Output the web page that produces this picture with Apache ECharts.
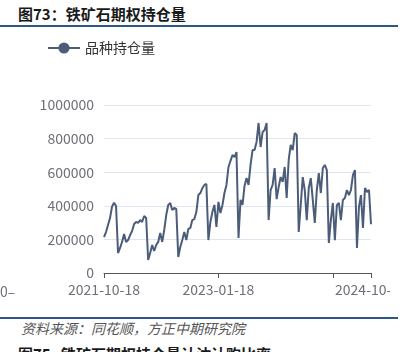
<!DOCTYPE html>
<html>
<head>
<meta charset="utf-8">
<script src="https://cdn.jsdelivr.net/npm/echarts@6/dist/echarts.min.js"></script>
<style>
  body { margin: 0; background: #fff; font-family: "Noto Sans CJK SC", sans-serif; }
  #wrap { position: relative; width: 406px; height: 352px; overflow: hidden; }
  #chart { position: absolute; left: 0; top: 0; width: 390px; height: 300px; }
  .title { position: absolute; left: 18px; font-size: 15px; font-weight: bold; color: #1a1a1a; white-space: nowrap; }
  .rule { position: absolute; left: 0; width: 398px; height: 1.5px; background: #2c5a86; }
  .source { position: absolute; left: 21px; top: 318px; font-size: 14px; font-style: italic; color: #555; white-space: nowrap; }
  .stub { position: absolute; left: 0; top: 281px; font-size: 14px; color: #6e7079; }
</style>
</head>
<body>
<div id="wrap">
  <div class="title" style="top:3px">图73：铁矿石期权持仓量</div>
  <div class="rule" style="top:25px"></div>
  <div id="chart"></div>
  <div class="stub">0–</div>
  <div class="rule" style="top:317px"></div>
  <div class="source">资料来源：同花顺，方正中期研究院</div>
  <div class="title" style="top:343px">图75&nbsp;&nbsp;&nbsp;铁矿石期权持仓量认沽认购比率</div>
</div>
<script>
const seriesName = "品种持仓量";
const yTicks = [0, 200000, 400000, 600000, 800000, 1000000];
const shownDates = ["2021-10-18", "2023-01-18", "2024-10-18"];
// positions (index) of the shown dates in the category list
const dateKnots = [0, 57, 133];

const holdings = [
  214000, 244000, 286000, 327000, 395000, 418000, 399000, 119000, 149000, 185000,
  232000, 185000, 196000, 226000, 250000, 292000, 304000, 298000, 315000, 304000,
  339000, 327000, 77000, 119000, 167000, 131000, 167000, 185000, 238000, 185000,
  256000, 345000, 405000, 417000, 375000, 387000, 381000, 95000, 155000, 196000,
  244000, 196000, 262000, 268000, 315000, 321000, 363000, 464000, 476000, 505000,
  524000, 530000, 196000, 304000, 363000, 405000, 274000, 423000, 357000, 405000,
  476000, 524000, 631000, 667000, 702000, 690000, 720000, 208000, 435000, 405000,
  518000, 565000, 524000, 643000, 732000, 732000, 780000, 893000, 750000, 839000,
  851000, 893000, 315000, 494000, 524000, 625000, 440000, 512000, 571000, 542000,
  631000, 446000, 673000, 762000, 732000, 833000, 821000, 244000, 405000, 571000,
  494000, 315000, 506000, 565000, 435000, 298000, 494000, 595000, 476000, 625000,
  643000, 613000, 179000, 315000, 417000, 196000, 405000, 417000, 315000, 435000,
  446000, 494000, 464000, 494000, 583000, 613000, 149000, 393000, 464000, 268000,
  506000, 482000, 494000, 290000
];

// category dates between the known label dates
function buildDates() {
  const out = [];
  for (let k = 0; k < dateKnots.length - 1; k++) {
    const a = new Date(shownDates[k] + "T00:00:00Z").getTime();
    const b = new Date(shownDates[k + 1] + "T00:00:00Z").getTime();
    const n = dateKnots[k + 1] - dateKnots[k];
    for (let i = 0; i < n; i++) {
      const d = new Date(a + Math.round(((b - a) / 86400000) * i / n) * 86400000);
      out.push(d.toISOString().slice(0, 10));
    }
  }
  out.push(shownDates[shownDates.length - 1]);
  return out;
}
const dates = buildDates();
const last = dates.length - 1;

const chart = echarts.init(document.getElementById("chart"));
chart.setOption({
  animation: false,
  textStyle: { fontFamily: "Noto Sans CJK SC" },
  legend: {
    left: 42,
    top: 36,
    itemWidth: 32,
    itemHeight: 14,
    textStyle: { fontSize: 14, color: "#333" },
    data: [seriesName],
  },
  grid: {
    left: 104, right: 19, top: 105, bottom: 27,
    containLabel: false, outerBoundsMode: "none",
  },
  xAxis: {
    type: "category",
    data: dates,
    boundaryGap: false,
    axisLine: { lineStyle: { color: "#555", width: 1 } },
    axisTick: { length: 5, interval: (i) => i % 57 === 0 || i === last },
    axisLabel: {
      interval: (i) => i === 0 || i === 57 || i === last,
      fontSize: 14,
      color: "#6e7079",
      margin: 10,
    },
    splitLine: { show: false },
  },
  yAxis: {
    type: "value",
    min: yTicks[0],
    max: yTicks[yTicks.length - 1],
    interval: 200000,
    axisLabel: { fontSize: 14, color: "#6e7079", margin: 10, formatter: (v) => String(v) },
    splitLine: { lineStyle: { color: "#e0e6f1" } },
  },
  series: [
    {
      name: seriesName,
      type: "line",
      data: holdings,
      symbol: "circle",
      showSymbol: false,
      lineStyle: { color: "#4c5d7a", width: 2 },
      itemStyle: { color: "#4c5d7a" },
    },
  ],
});
</script>
</body>
</html>
